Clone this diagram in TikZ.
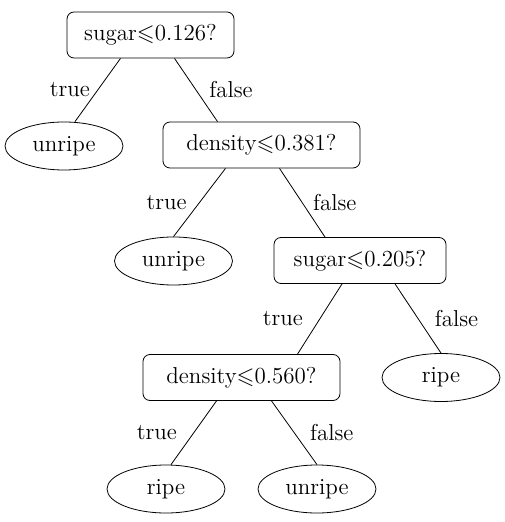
\documentclass[tikz,border=0pt]{standalone}
\usepackage{amssymb}
\usepackage{tikz}
\usetikzlibrary{shapes.geometric, positioning}

\begin{document}
\begin{tikzpicture}[x=0.5pt, y=-0.5pt, font=\fontsize{11.5}{13}\selectfont,
  test/.style={draw, rounded corners=3.5pt, minimum height=23pt, inner sep=0pt},
  leaf/.style={draw, ellipse, minimum width=59pt, minimum height=24pt, inner sep=0pt},
  lbl/.style={inner sep=0pt}]
\useasboundingbox (0,0) rectangle (504,522);
% questions
\node[test, minimum width=83.5pt] (sugarA) at (150.5,35) {sugar$\leqslant$0.126?};
\node[test, minimum width=98.5pt] (densA) at (261.5,145) {density$\leqslant$0.381?};
\node[test, minimum width=86pt] (sugarB) at (360,260.5) {sugar$\leqslant$0.205?};
\node[test, minimum width=98.5pt] (densB) at (241.5,377.5) {density$\leqslant$0.560?};
% leaves
\node[leaf] (leafA) at (64,146) {unripe};
\node[leaf] (leafB) at (173.5,261) {unripe};
\node[leaf] (leafC) at (441,377.5) {ripe};
\node[leaf] (leafD) at (166,489) {ripe};
\node[leaf] (leafE) at (317,489) {unripe};
% branches
\draw ([xshift=-15pt]sugarA.south) -- node[lbl, midway, left=3.75pt] {true} ([xshift=5.5pt]leafA.north);
\draw ([xshift=12pt]sugarA.south) -- node[lbl, midway, right=6.5pt] {false} ([xshift=-22pt]densA.north);
\draw ([xshift=-18pt]densA.south) -- node[lbl, midway, left=6.25pt] {true} (leafB.north);
\draw ([xshift=9pt]densA.south) -- node[lbl, midway, right=5.25pt] {false} ([xshift=-17.5pt]sugarB.north);
\draw ([xshift=-9pt]sugarB.south) -- node[lbl, midway, left=8.25pt] {true} ([xshift=28pt]densB.north);
\draw ([xshift=17.5pt]sugarB.south) -- node[lbl, midway, right=8.25pt] {false} (leafC.north);
\draw ([xshift=-12.5pt]densB.south) -- node[lbl, midway, left=8.25pt] {true} ([xshift=2.5pt]leafD.north);
\draw ([xshift=15pt]densB.south) -- node[lbl, midway, right=7.75pt] {false} (leafE.north);
\end{tikzpicture}
\end{document}
